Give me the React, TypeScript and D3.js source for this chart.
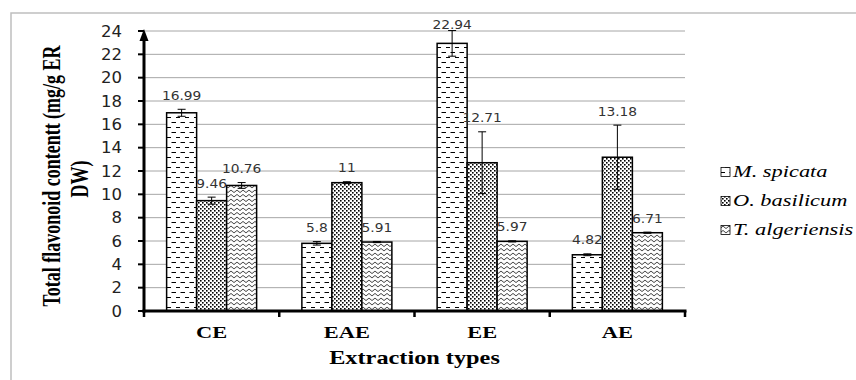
import React from "react";
import * as d3 from "d3";

const categories = ["CE", "EAE", "EE", "AE"];
const species = ["M. spicata", "O. basilicum", "T. algeriensis"];
const mSpicata = [16.99, 5.8, 22.94, 4.82];
const mSpicataErr = [0.3, 0.15, 1.1, 0.08];
const oBasilicum = [9.46, 11, 12.71, 13.18];
const oBasilicumErr = [0.3, 0.08, 2.65, 2.75];
const tAlgeriensis = [10.76, 5.91, 5.97, 6.71];
const tAlgeriensisErr = [0.25, 0.05, 0.05, 0.05];
const yTicks = [0, 2, 4, 6, 8, 10, 12, 14, 16, 18, 20, 22, 24];

const seriesValues = [mSpicata, oBasilicum, tAlgeriensis];
const seriesErrs = [mSpicataErr, oBasilicumErr, tAlgeriensisErr];
const patternIds = ["pat-dash", "pat-dots", "pat-wave"];

const W = 856,
  H = 380;
const margin = { top: 31, right: 171, bottom: 69, left: 144 };
const SERIF = "Liberation Serif";
const SANS = "DejaVu Sans";

// text in the reference is stretched horizontally
const ST = (props) => {
  const { x, y, sx = 1.4, rotate = 0, children, ...rest } = props;
  return (
    <text
      transform={`translate(${x},${y}) scale(${sx},1)${rotate ? ` rotate(${rotate})` : ""}`}
      {...rest}
    >
      {children}
    </text>
  );
};

export default function App() {
  const x = d3
    .scaleBand()
    .domain(categories)
    .range([margin.left, W - margin.right]);
  const xInner = d3
    .scaleBand()
    .domain(species)
    .range([0, x.bandwidth()])
    .paddingInner(0)
    .paddingOuter(0.754);
  const y = d3
    .scaleLinear()
    .domain([0, 24])
    .range([H - margin.bottom, margin.top]);

  const x0 = margin.left,
    x1 = W - margin.right;
  const bw = xInner.bandwidth();

  return (
    <svg
      width={W}
      height={H}
      style={{ position: "absolute", left: 0, top: 0, background: "#fff" }}
    >
      <defs>
        <pattern id="pat-dash" width="9" height="10" patternUnits="userSpaceOnUse">
          <rect width="9" height="10" fill="#fff" />
          <path d="M0.5 2.5h4.5M5 7.5h4M-0.5 7.5h0.5" stroke="#000" strokeWidth="1" />
        </pattern>
        <pattern id="pat-dots" width="4" height="4" patternUnits="userSpaceOnUse">
          <rect width="4" height="4" fill="#fff" />
          <rect x="0" y="0" width="1.6" height="1.6" fill="#000" />
          <rect x="2" y="2" width="1.6" height="1.6" fill="#000" />
        </pattern>
        <pattern id="pat-wave" width="6" height="4.5" patternUnits="userSpaceOnUse">
          <rect width="6" height="4.5" fill="#fff" />
          <path d="M0 3.5L3 1L6 3.5" stroke="#000" strokeWidth="0.8" fill="none" />
        </pattern>
      </defs>

      {/* frame */}
      <path d={`M11 ${H}V13H${W}`} fill="none" stroke="#bfbfbf" strokeWidth="1.5" />

      {/* gridlines */}
      {yTicks.slice(1).map((t) => (
        <line key={t} x1={x0} x2={x1} y1={y(t)} y2={y(t)} stroke="#a6a6a6" strokeWidth="1" />
      ))}

      {/* bars */}
      {categories.map((c, ci) =>
        species.map((s, si) => {
          const v = seriesValues[si][ci];
          const bx = x(c) + xInner(s);
          return (
            <rect
              key={c + s}
              x={bx}
              y={y(v)}
              width={bw}
              height={y(0) - y(v)}
              fill={`url(#${patternIds[si]})`}
              stroke="#000"
              strokeWidth="1.5"
            />
          );
        })
      )}

      {/* error bars */}
      {categories.map((c, ci) =>
        species.map((s, si) => {
          const v = seriesValues[si][ci];
          const e = seriesErrs[si][ci];
          const cx = x(c) + xInner(s) + bw / 2;
          return (
            <g key={"e" + c + s} stroke="#000" strokeWidth="1">
              <line x1={cx} x2={cx} y1={y(v - e)} y2={y(v + e)} />
              <line x1={cx - 4} x2={cx + 4} y1={y(v + e)} y2={y(v + e)} />
              <line x1={cx - 4} x2={cx + 4} y1={y(v - e)} y2={y(v - e)} />
            </g>
          );
        })
      )}

      {/* value labels */}
      {categories.map((c, ci) =>
        species.map((s, si) => {
          const v = seriesValues[si][ci];
          const e = seriesErrs[si][ci];
          const cx = x(c) + xInner(s) + bw / 2;
          const cy = Math.max(y(v + e) - 14, y(24) - 7);
          return (
            <ST
              key={"l" + c + s}
              x={cx}
              y={cy + 4.5}
              sx={1.15}
              textAnchor="middle"
              fontFamily={SANS}
              fontSize="12"
              fill="#333"
            >
              {String(v)}
            </ST>
          );
        })
      )}

      {/* y axis */}
      <line x1={x0} x2={x0} y1={y(0) + 1.5} y2={y(24) + 8} stroke="#000" strokeWidth="3" />
      <path
        d={`M${x0 - 4.5} ${y(24) + 10}L${x0} ${y(24) - 2}L${x0 + 4.5} ${y(24) + 10}Z`}
        fill="#000"
      />
      {yTicks.map((t) => (
        <g key={"yt" + t}>
          <line x1={x0 - 6} x2={x0} y1={y(t)} y2={y(t)} stroke="#000" strokeWidth="2" />
          <ST
            x={122}
            y={y(t) + 5.5}
            sx={1.1}
            textAnchor="end"
            fontFamily={SANS}
            fontSize="15"
            fill="#222"
          >
            {t}
          </ST>
        </g>
      ))}

      {/* x axis */}
      <line x1={x0 - 1.5} x2={x1 + 1.5} y1={y(0)} y2={y(0)} stroke="#000" strokeWidth="3" />
      {[...categories.map((c) => x(c)), x1].map((tx, i) => (
        <line key={"xt" + i} x1={tx} x2={tx} y1={y(0)} y2={y(0) + 6} stroke="#000" strokeWidth="2.5" />
      ))}
      {categories.map((c) => (
        <ST
          key={"xl" + c}
          x={x(c) + x.bandwidth() / 2}
          y={338}
          textAnchor="middle"
          fontFamily={SERIF}
          fontWeight="bold"
          fontSize="16"
          fill="#000"
        >
          {c}
        </ST>
      ))}

      {/* axis titles */}
      <ST
        x={(x0 + x1) / 2}
        y={364}
        sx={1.35}
        textAnchor="middle"
        fontFamily={SERIF}
        fontWeight="bold"
        fontSize="18"
        fill="#000"
      >
        Extraction types
      </ST>
      <ST
        x={60}
        y={176}
        sx={1.4}
        rotate={-90}
        textAnchor="middle"
        fontFamily={SERIF}
        fontWeight="bold"
        fontSize="18"
        fill="#000"
      >
        Total flavonoid contentt (mg/g ER
      </ST>
      <ST
        x={88}
        y={179}
        sx={1.4}
        rotate={-90}
        textAnchor="middle"
        fontFamily={SERIF}
        fontWeight="bold"
        fontSize="18"
        fill="#000"
      >
        DW)
      </ST>

      {/* legend */}
      {species.map((s, si) => {
        const ly = 172 + si * 29;
        return (
          <g key={"lg" + s}>
            <rect
              x={721}
              y={ly - 4.5}
              width={9}
              height={9}
              fill={`url(#${patternIds[si]})`}
              stroke="#000"
              strokeWidth="0.8"
            />
            <ST
              x={733}
              y={ly + 5}
              sx={1.4}
              fontFamily={SERIF}
              fontStyle="italic"
              fontSize="16"
              fill="#000"
            >
              {s}
            </ST>
          </g>
        );
      })}
    </svg>
  );
}
